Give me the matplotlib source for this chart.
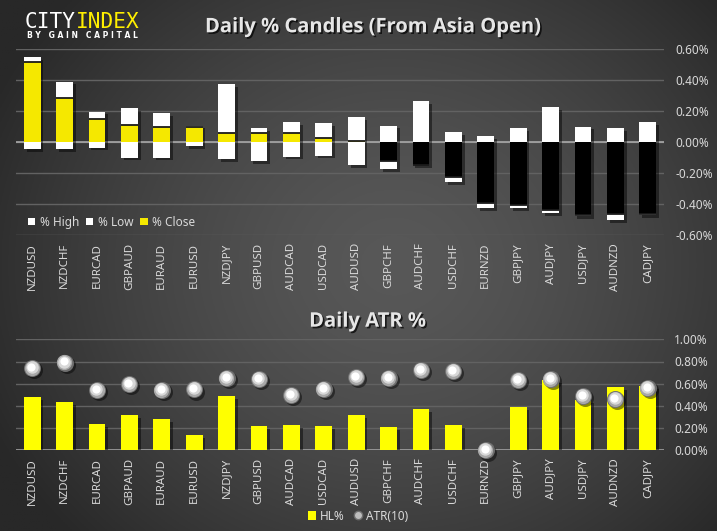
import numpy as np
import matplotlib
matplotlib.use('Agg')
import matplotlib.pyplot as plt
import matplotlib.patheffects as pe
from matplotlib.ticker import FuncFormatter, MultipleLocator
from matplotlib.lines import Line2D
from matplotlib.patches import Patch

# ---------------- data ----------------
pairs = ["NZDUSD", "NZDCHF", "EURCAD", "GBPAUD", "EURAUD", "EURUSD", "NZDJPY",
         "GBPUSD", "AUDCAD", "USDCAD", "AUDUSD", "GBPCHF", "AUDCHF", "USDCHF",
         "EURNZD", "GBPJPY", "AUDJPY", "USDJPY", "AUDNZD", "CADJPY"]
pct_high = [0.546, 0.390, 0.197, 0.217, 0.185, 0.107, 0.376, 0.092, 0.131, 0.123,
            0.159, 0.107, 0.266, 0.066, 0.041, 0.092, 0.228, 0.100, 0.092, 0.131]
pct_low = [-0.043, -0.043, -0.035, -0.100, -0.100, -0.028, -0.108, -0.120, -0.093, -0.086,
           -0.150, -0.172, -0.148, -0.256, -0.424, -0.424, -0.456, -0.477, -0.503, -0.468]
pct_close = [0.516, 0.284, 0.150, 0.110, 0.100, 0.097, 0.058, 0.058, 0.058, 0.028,
             0.010, -0.120, -0.146, -0.226, -0.392, -0.407, -0.439, -0.469, -0.465, -0.465]
hl_pct = [0.480, 0.435, 0.237, 0.318, 0.282, 0.138, 0.489, 0.219, 0.228, 0.219,
          0.318, 0.210, 0.372, 0.228, 0.000, 0.390, 0.633, 0.453, 0.570, 0.579]
atr10 = [0.739, 0.790, 0.543, 0.597, 0.543, 0.549, 0.651, 0.642, 0.498, 0.552,
         0.660, 0.651, 0.723, 0.714, 0.000, 0.633, 0.642, 0.489, 0.462, 0.561]

top_ticks = [-0.6, -0.4, -0.2, 0.0, 0.2, 0.4, 0.6]
bot_ticks = [0.0, 0.2, 0.4, 0.6, 0.8, 1.0]

# ---------------- style ----------------
W, H = 717, 531
TXT = '#d9d9d9'
GRID = '#626262'
YEL_TOP = '#f5e800'
YEL_BOT = '#ffff00'
FONT = 'Noto Sans'
plt.rcParams['font.family'] = [FONT, 'DejaVu Sans']

fig = plt.figure(figsize=(W / 100, H / 100), dpi=100)

# background radial gradient
bg = fig.add_axes([0, 0, 1, 1], zorder=-10)
yy, xx = np.mgrid[0:1:300j, 0:1:400j]
r = np.sqrt(((xx - 0.55) / 0.62) ** 2 + ((yy - 0.5) / 0.75) ** 2)
val = np.clip(88 - 48 * r ** 1.5, 40, 88) / 255.0
bg.imshow(np.dstack([val, val, val]), aspect='auto', extent=[0, 1, 0, 1])
bg.set_axis_off()

shadow = [pe.SimplePatchShadow(offset=(2, -2), shadow_rgbFace='black', alpha=0.45), pe.Normal()]
tshadow = [pe.SimplePatchShadow(offset=(1.2, -1.2), shadow_rgbFace='black', alpha=0.7), pe.Normal()]

x = np.arange(len(pairs))
bw = 0.52


def pct_fmt(v, pos):
    return f"{v:.2f}%"


def style_axis(ax, ticks, pad):
    ax.set_facecolor('none')
    for s in ax.spines.values():
        s.set_visible(False)
    ax.set_xlim(-0.5, len(pairs) - 0.5)
    ax.set_yticks(ticks)
    ax.yaxis.set_major_formatter(FuncFormatter(pct_fmt))
    ax.yaxis.tick_right()
    ax.tick_params(axis='y', length=0, pad=pad, labelsize=8.5, labelcolor=TXT)
    ax.tick_params(axis='x', length=0, pad=5.5, labelsize=8.3, labelcolor=TXT)
    ax.set_xticks(x)
    ax.set_xticklabels(pairs, rotation=90)
    for t in ticks:
        ax.axhline(t, color=GRID, lw=1.0, zorder=1)


# ---------------- top: candles ----------------
ax1 = fig.add_axes([16 / W, 1 - 235.3 / H, 648 / W, (235.3 - 49) / H])
style_axis(ax1, top_ticks, 8)
ax1.set_ylim(-0.6, 0.6)
ax1.axhline(0, color='#a8a8a8', lw=1.2, zorder=2)

hi = np.array(pct_high)
lo = np.array(pct_low)
cl = np.array(pct_close)
ax1.bar(x, hi - lo, bottom=lo, width=bw, color='white', zorder=3, path_effects=shadow)
close_cols = [YEL_TOP if c >= 0 else 'black' for c in cl]
ax1.bar(x, cl, width=bw, color=close_cols, zorder=4)
ax1.hlines(cl, x - bw / 2, x + bw / 2, color='#1a1a1a', lw=1.3, zorder=5)

leg1 = ax1.legend(handles=[Patch(facecolor='white', label='% High'),
                           Patch(facecolor='white', label='% Low'),
                           Patch(facecolor=YEL_TOP, label='% Close')],
                  loc='center left', bbox_to_anchor=(0.0, 0.07), ncol=3, frameon=False,
                  fontsize=8.5, labelcolor=TXT, handlelength=0.6, handleheight=0.6,
                  handletextpad=0.4, columnspacing=0.6, borderaxespad=0.6)

# ---------------- bottom: ATR ----------------
ax2 = fig.add_axes([16 / W, 1 - 450.3 / H, 648 / W, 111 / H])
style_axis(ax2, bot_ticks, 7.2)
ax2.set_ylim(0, 1.0)
ax2.axhline(0, color='#a0a0a0', lw=1.2, zorder=2)
ax2.bar(x, hl_pct, width=bw, color=YEL_BOT, zorder=3, path_effects=shadow)

# sphere-like markers
atr = np.array(atr10)
ax2.scatter(x + 0.06, atr - 0.02, s=150, color='black', alpha=0.45, zorder=5, clip_on=False, lw=0)
layers = [(150, '#6e6e6e', 0.0, 0.0), (120, '#a8a8a8', -0.01, 0.004),
          (80, '#d8d8d8', -0.02, 0.008), (35, '#ffffff', -0.03, 0.012)]
for s, c, dx, dy in layers:
    ax2.scatter(x + dx, atr + dy, s=s, color=c, zorder=6, clip_on=False, lw=0)

fig.legend(handles=[Patch(facecolor=YEL_BOT, label='HL%'),
                    Line2D([], [], ls='none', marker='o', markersize=6, markerfacecolor='#bdbdbd',
                           markeredgecolor='#6e6e6e', label='ATR(10)')],
           loc='center', bbox_to_anchor=(358 / W, 1 - 516 / H), ncol=2, frameon=False,
           fontsize=8.5, labelcolor=TXT, handlelength=0.7, handleheight=0.7,
           handletextpad=0.3, columnspacing=0.8)

# ---------------- titles & logo ----------------
fig.text(373 / W, 1 - 32.3 / H, 'Daily % Candles (From Asia Open)', ha='center', va='baseline',
         fontsize=14.5, fontweight='bold', color='#e6e6e6', family='Open Sans', path_effects=tshadow)
fig.text(367.5 / W, 1 - 326.7 / H, 'Daily ATR %', ha='center', va='baseline',
         fontsize=14.5, fontweight='bold', color='#e6e6e6', family='Open Sans', path_effects=tshadow)

fig.text(25 / W, 1 - 28.5 / H, 'CITY', ha='left', va='baseline', fontsize=15.2,
         color='white', family='DejaVu Sans Mono')
fig.text(75.5 / W, 1 - 28.5 / H, 'INDEX', ha='left', va='baseline', fontsize=15.2,
         color='#ffef00', family='DejaVu Sans Mono')
fig.text(27 / W, 1 - 38.5 / H, 'B Y   G A I N   C A P I T A L', ha='left', va='baseline',
         fontsize=5.5, fontweight='bold', color='white', family='DejaVu Sans')

fig.savefig('out.png', dpi=100, facecolor='#333333')
